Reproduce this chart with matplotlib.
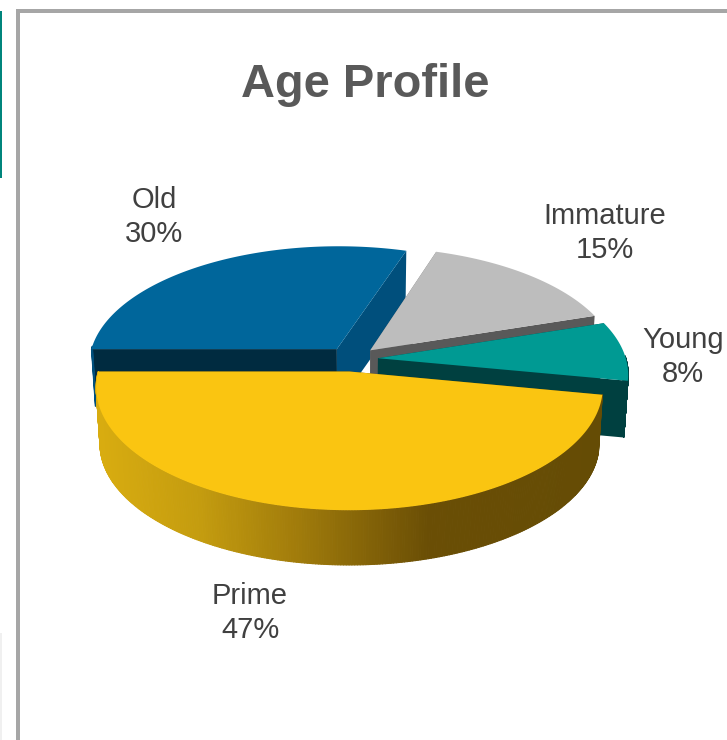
import matplotlib
matplotlib.use("Agg")
import matplotlib.pyplot as plt
from matplotlib.collections import PolyCollection
from matplotlib.colors import to_rgb
from matplotlib.patches import Polygon, Rectangle
import numpy as np

labels = ["Immature", "Young", "Prime", "Old"]
shares = [15, 8, 47, 30]

top_colors = ["#BDBDBD", "#009A93", "#FAC511", "#00669B"]
start_face = ["#777777", "#004444", "#6A4E05", "#002B40"]
end_face = ["#595959", "#004040", "#6A4E05", "#004F7C"]
label_pos = [(605, 233), (683, 357), (250, 613), (154, 217)]

# geometry of the pie, in pixels
CX, CY = 352, 359
R, H = 248, 118
PERSP = 0.125
EXPLODE = 0.105
DEPTH = 57
SHRINK = 0.985
FIRST_ANGLE = 288


def project(u, v, low=False):
    w = 1 - PERSP * v
    x = CX + R * u / w
    y = CY + H * v / w
    if low:
        x = CX + (x - CX) * SHRINK
        y = CY + (y - CY) * SHRINK + DEPTH
    return np.column_stack([x, y])


def wedge_points(t1, t2, n=300):
    mid = np.radians((t1 + t2) / 2)
    ou, ov = EXPLODE * np.cos(mid), EXPLODE * np.sin(mid)
    t = np.radians(np.linspace(t1, t2, n))
    return ou, ov, ou + np.cos(t), ov + np.sin(t)


def side_color(x):
    # horizontal shading of the front wall
    pts = [100, 200, 300, 430, 600]
    cols = np.array([to_rgb(c) for c in ["#D8AC10", "#C49C0F", "#A07B0B", "#6A4E05", "#654C05"]])
    return [np.interp(x, pts, cols[:, i]) for i in range(3)]


fig = plt.figure(figsize=(7.27, 7.40), dpi=100)
ax = fig.add_axes([0, 0, 1, 1])
ax.set_xlim(0, 727)
ax.set_ylim(740, 0)
ax.axis("off")

# frame and slide leftovers
ax.add_patch(Rectangle((16, 9), 711, 4, color="#A6A6A6", lw=0))
ax.add_patch(Rectangle((16, 9), 4, 731, color="#A6A6A6", lw=0))
ax.add_patch(Rectangle((0, 11), 2, 167, color="#00857C", lw=0))
ax.add_patch(Rectangle((0, 633), 2, 107, color="#F0F0F0", lw=0))

# angles of every slice, clockwise on screen
angles = FIRST_ANGLE + np.cumsum([0] + list(np.array(shares) * 3.6))

# painter order: back slices first
for i in [3, 0, 1, 2]:
    t1, t2 = angles[i], angles[i + 1]
    ou, ov, u, v = wedge_points(t1, t2)
    apex_hi = project(np.array([ou]), np.array([ov]))
    apex_lo = project(np.array([ou]), np.array([ov]), low=True)
    hi = project(u, v)
    lo = project(u, v, low=True)

    # cut faces
    ax.add_patch(Polygon([apex_hi[0], hi[0], lo[0], apex_lo[0]], color=start_face[i], lw=0))
    ax.add_patch(Polygon([apex_hi[0], hi[-1], lo[-1], apex_lo[0]], color=end_face[i], lw=0))

    # outer wall, only the part that faces the viewer
    quads = []
    cols = []
    for j in range(len(u) - 1):
        if v[j] - ov > -0.02:
            quads.append([hi[j], hi[j + 1], lo[j + 1], lo[j]])
            cols.append(side_color(hi[j][0]) if i == 2 else to_rgb(end_face[i]))
    if quads:
        ax.add_collection(PolyCollection(quads, facecolors=cols, edgecolors=cols, linewidths=0.8))

    ax.add_patch(Polygon(np.vstack([apex_hi, hi]), color=top_colors[i], lw=0))

font = "Liberation Sans"
ax.text(365.5, 85, "Age Profile", fontsize=33.8, fontweight="bold", color="#595959",
        ha="center", va="center", family=font)
for name, share, pos in zip(labels, shares, label_pos):
    ax.text(pos[0], pos[1], f"{name}\n{share}%", fontsize=21, color="#404040",
            ha="center", va="center", family=font, linespacing=1.25)

fig.savefig("out.png", dpi=100, facecolor="white")
